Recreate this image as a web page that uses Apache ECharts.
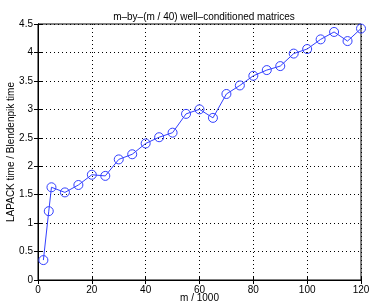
<!DOCTYPE html>
<html>
<head>
<meta charset="utf-8">
<script src="https://cdn.jsdelivr.net/npm/echarts@6/dist/echarts.min.js"></script>
<style>
html, body { margin: 0; padding: 0; background: #fff; }
#chart { width: 371px; height: 303px; }
</style>
</head>
<body>
<div id="chart"></div>
<script>
const mValues = [2, 4, 5, 10, 15, 20, 25, 30, 35, 40, 45, 50, 55, 60, 65, 70, 75, 80, 85, 90, 95, 100, 105, 110, 115, 120]
const timeRatio = [0.35, 1.21, 1.63, 1.54, 1.67, 1.85, 1.83, 2.12, 2.21, 2.40, 2.51, 2.59, 2.92, 3.00, 2.85, 3.27, 3.42, 3.59, 3.69, 3.76, 3.98, 4.06, 4.23, 4.36, 4.20, 4.42]

const font = 'Liberation Sans, Arial, sans-serif'

const makeAxisStyle = (showLabels) => {
    return {
        axisLine : { show : true, lineStyle : { color : '#000', width : 1 } },
        axisTick : { show : true, inside : true, length : 4, lineStyle : { color : '#000' } },
        axisLabel : { show : showLabels, color : '#000', fontSize : 10, fontFamily : font, margin : 5 },
        splitLine : { show : false }
    }
}

const buildData = () => {
    let points = []
    mValues.forEach((m, i) => {
        points.push([m, timeRatio[i]])
    })
    return points
}

let chart = echarts.init(document.getElementById('chart'), null, { renderer : 'canvas' })

let xMain = makeAxisStyle(true)
xMain.splitLine = { show : true, lineStyle : { color : '#000', type : [1, 3], width : 1 } }
let yMain = makeAxisStyle(true)
yMain.splitLine = { show : true, lineStyle : { color : '#000', type : [1, 3], width : 1 } }

let option = {
    animation : false,
    backgroundColor : '#fff',
    title : {
        text : 'm\u2013by\u2013(m / 40) well\u2013conditioned matrices',
        left : 199, top : 7, textAlign : 'center',
        textStyle : { fontSize : 10, fontWeight : 'normal', color : '#000', fontFamily : font }
    },
    grid : {
        left : 38, right : 10, top : 24, bottom : 23,
        containLabel : false, outerBoundsMode : 'none',
        show : true, borderColor : '#000', borderWidth : 1
    },
    xAxis : [
        Object.assign({
            type : 'value', min : 0, max : 120, interval : 20, position : 'bottom',
            name : 'm / 1000', nameLocation : 'middle', nameGap : 13, nameMoveOverlap : false,
            nameTextStyle : { fontSize : 10, color : '#000', fontFamily : font }
        }, xMain),
        Object.assign({ type : 'value', min : 0, max : 120, interval : 20, position : 'top' }, makeAxisStyle(false))
    ],
    yAxis : [
        Object.assign({
            type : 'value', min : 0, max : 4.5, interval : 0.5, position : 'left',
            name : 'LAPACK time / Blendenpik time', nameLocation : 'middle', nameGap : 22, nameMoveOverlap : false,
            nameTextStyle : { fontSize : 10, color : '#000', fontFamily : font }
        }, yMain),
        Object.assign({ type : 'value', min : 0, max : 4.5, interval : 0.5, position : 'right' }, makeAxisStyle(false))
    ],
    series : [
        {
            type : 'line',
            data : buildData(),
            symbol : 'circle',
            symbolSize : 9,
            itemStyle : { color : 'rgba(0,0,0,0)', borderColor : '#3340ff', borderWidth : 1 },
            lineStyle : { color : '#3340ff', width : 1 }
        }
    ]
}

chart.setOption(option)
</script>
</body>
</html>
